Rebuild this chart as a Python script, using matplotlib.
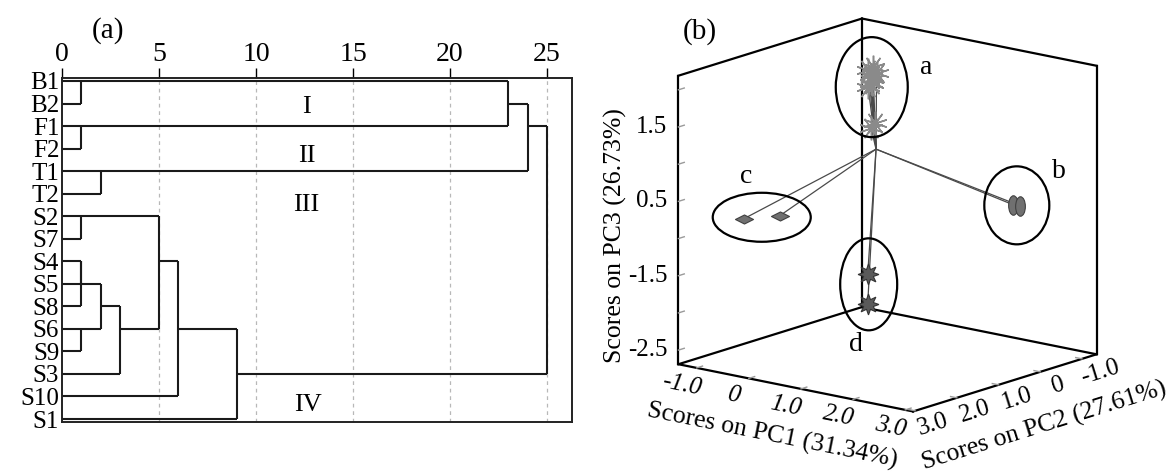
import numpy as np
import matplotlib
matplotlib.use("Agg")
import matplotlib.pyplot as plt
from matplotlib.patches import Ellipse
from matplotlib.path import Path
from mpl_toolkits.mplot3d import proj3d

plt.rcParams['font.family'] = ['Liberation Serif', 'DejaVu Serif']

# ---------------- panel (a): dendrogram data ----------------
leaf_labels = ['B1', 'B2', 'F1', 'F2', 'T1', 'T2', 'S2', 'S7', 'S4', 'S5',
               'S8', 'S6', 'S9', 'S3', 'S10', 'S1']
# cluster ids < 16 are leaves, id 16+k is the cluster made by merge k
merge_left = [0, 2, 4, 6, 8, 20, 11, 21, 23, 19, 25, 26, 16, 28, 29]
merge_right = [1, 3, 5, 7, 9, 10, 12, 22, 13, 24, 14, 15, 17, 18, 27]
merge_dist = [1, 1, 2, 1, 1, 1, 1, 2, 3, 5, 6, 9, 23, 24, 25]
dist_ticks = [0, 5, 10, 15, 20, 25]
cluster_names = ['I', 'II', 'III', 'IV']
cluster_name_dist = [12.6, 12.6, 12.6, 12.7]
cluster_name_row = [1.15, 3.35, 5.5, 14.4]

# ---------------- panel (b): PCA score data ----------------
group_names = ['a', 'b', 'c', 'd']
a_pc1 = [0.02, -0.03, 0.05, 0.00, -0.02, 0.04, 0.01, -0.04, 0.03, 0.00]
a_pc2 = [0.10, 0.15, 0.05, 0.12, 0.08, 0.18, 0.10, 0.14, 0.06, 0.12]
a_pc3 = [1.98, 1.94, 1.90, 1.86, 1.82, 1.78, 1.75, 1.72, 1.22, 1.17]
b_pc1 = [1.83, 1.97]
b_pc2 = [-1.00, -1.00]
b_pc3 = [0.196, 0.20]
c_pc1 = [-0.80, -0.80]
c_pc2 = [2.17, 1.31]
c_pc3 = [0.19, 0.08]
d_pc1 = [0.00, 0.00]
d_pc2 = [0.20, 0.20]
d_pc3 = [-0.79, -1.19]
center_pc = (0.0, 0.0, 0.86)   # (PC1, PC2, PC3) where the lines meet
pc1_lim = (-1.35, 3.15)
pc2_lim = (-1.35, 3.05)
pc3_lim = (-1.69, 2.19)
pc1_ticks = [-1, 0, 1, 2, 3]
pc1_ticklabels = ['-1.0', '0', '1.0', '2.0', '3.0']
pc2_ticks = [-1, 0, 1, 2, 3]
pc2_ticklabels = ['-1.0', '0', '1.0', '2.0', '3.0']
pc3_ticks = [2.0, 1.5, 1.0, 0.5, 0.0, -0.5, -1.0, -1.5]
pc3_ticklabels = ['', '1.5', '', '0.5', '', '-1.5', '', '-2.5']
pc1_label = 'Scores on PC1 (31.34%)'
pc2_label = 'Scores on PC2 (27.61%)'
pc3_label = 'Scores on PC3 (26.73%)'

W, H = 1171, 474
fig = plt.figure(figsize=(W / 100, H / 100), dpi=100)

# ================= panel (a) =================
ax = fig.add_axes([62 / W, (H - 422) / H, (572 - 62) / W, (422 - 78) / H])
LC = '#1a1a1a'
LW = 1.5
n = len(leaf_labels)
pos = list(range(n))
hgt = [0.0] * n
for l, r, d in zip(merge_left, merge_right, merge_dist):
    ax.plot([hgt[l], d], [pos[l], pos[l]], color=LC, lw=LW, clip_on=False, solid_capstyle='butt')
    ax.plot([hgt[r], d], [pos[r], pos[r]], color=LC, lw=LW, clip_on=False, solid_capstyle='butt')
    ax.plot([d, d], [pos[l], pos[r]], color=LC, lw=LW, clip_on=False, solid_capstyle='butt')
    pos.append((pos[l] + pos[r]) // 2)
    hgt.append(d)

for t in dist_ticks[1:]:
    ax.axvline(t, color='#b8b8b8', lw=0.9, ls=(0, (3, 3)), zorder=0)

for name, xd, yr in zip(cluster_names, cluster_name_dist, cluster_name_row):
    ax.text(xd, yr, name, fontsize=19, ha='center', va='center')

ax.set_xlim(0, 26.29)
ax.set_ylim(15.133, -0.133)
ax.xaxis.tick_top()
ax.set_xticks(dist_ticks)
ax.set_xticklabels([str(t) for t in dist_ticks], fontsize=20)
ax.tick_params(axis='x', direction='out', length=7, width=1.0, pad=1)
ax.set_yticks(range(n))
ax.set_yticklabels(leaf_labels, fontsize=18)
ax.tick_params(axis='y', length=0, pad=2)
for sp in ax.spines.values():
    sp.set_linewidth(1.4)
    sp.set_color('#222222')
fig.text(108 / W, 1 - 31 / H, '(a)', fontsize=21, ha='center', va='center')

# ================= panel (b) =================
ax3 = fig.add_axes([0.53, 0.0, 0.45, 1.0], projection='3d', proj_type='ortho')
ax3.set_facecolor('none')
ax3.set_axis_off()
ax3.computed_zorder = False
ax3.view_init(elev=14.5, azim=38.8)
ax3.set_box_aspect((0.973, 1.0, 0.99))

oval = Path(Path.unit_circle().vertices * np.array([0.5, 1.0]), Path.unit_circle().codes)
diamond = Path([(-1, 0), (0, 0.5), (1, 0), (0, -0.5), (-1, 0)],
               [Path.MOVETO, Path.LINETO, Path.LINETO, Path.LINETO, Path.CLOSEPOLY])

groups = {
    'a': (a_pc1, a_pc2, a_pc3, dict(marker=(10, 2, 0), ms=17, mec='#8a8a8a', mfc='#8a8a8a', mew=1.1)),
    'b': (b_pc1, b_pc2, b_pc3, dict(marker=oval, ms=14, mfc='#707070', mec='#404040', mew=0.8)),
    'c': (c_pc1, c_pc2, c_pc3, dict(marker=diamond, ms=13, mfc='#707070', mec='#404040', mew=0.8)),
    'd': (d_pc1, d_pc2, d_pc3, dict(marker=(8, 1, 0), ms=15, mfc='#5a5a5a', mec='#333333', mew=0.8)),
}
c1, c2, c3 = center_pc
for g in group_names:
    p1, p2, p3, st = groups[g]
    for u, v, w in zip(p1, p2, p3):
        ax3.plot([c2, v], [c1, u], [c3, w], color='#4a4a4a', lw=0.9, zorder=2)
for g in group_names:
    p1, p2, p3, st = groups[g]
    ax3.plot(p2, p1, p3, ls='none', zorder=3, **st)

x0, x1 = pc2_lim
y0, y1 = pc1_lim
z0, z1 = pc3_lim
edges = [((x0, x0), (y0, y0), (z0, z1)),
         ((x1, x1), (y0, y0), (z0, z1)),
         ((x0, x0), (y1, y1), (z0, z1)),
         ((x0, x1), (y0, y0), (z1, z1)),
         ((x0, x0), (y0, y1), (z1, z1)),
         ((x0, x1), (y0, y0), (z0, z0)),
         ((x0, x0), (y0, y1), (z0, z0)),
         ((x1, x1), (y0, y1), (z0, z0)),
         ((x0, x1), (y1, y1), (z0, z0))]
for ex, ey, ez in edges:
    ax3.plot(ex, ey, ez, color='black', lw=1.6, zorder=1, solid_capstyle='projecting')

TK = '#9a9a9a'
for t in pc3_ticks:
    ax3.plot([x1, x1 - 0.14], [y0, y0], [t, t], color=TK, lw=1.0, zorder=1)
for t in pc1_ticks:
    ax3.plot([x1, x1 - 0.14], [t, t], [z0, z0], color=TK, lw=1.0, zorder=1)
for t in pc2_ticks:
    ax3.plot([t, t], [y1, y1 - 0.12], [z0, z0], color=TK, lw=1.0, zorder=1)

ax3.set_xlim(*pc2_lim)
ax3.set_ylim(*pc1_lim)
ax3.set_zlim(*pc3_lim)


def to_px(xs, ys, zs):
    X, Y, _ = proj3d.proj_transform(np.atleast_1d(np.asarray(xs, float)),
                                    np.atleast_1d(np.asarray(ys, float)),
                                    np.atleast_1d(np.asarray(zs, float)), ax3.M)
    return ax3.transData.transform(np.column_stack([X, Y]))


corner_x = [x0, x1, x0, x1, x0, x1, x0, x1]
corner_y = [y0, y0, y1, y1, y0, y0, y1, y1]
corner_z = [z0, z0, z0, z0, z1, z1, z1, z1]
target_w, target_h = 1096 - 679, 412 - 18
target_c = np.array([(679 + 1096) / 2, H - (18 + 412) / 2])
for _ in range(2):
    fig.canvas.draw()
    pix = to_px(corner_x, corner_y, corner_z)
    bw = pix[:, 0].max() - pix[:, 0].min()
    bh = pix[:, 1].max() - pix[:, 1].min()
    pc = np.array([(pix[:, 0].max() + pix[:, 0].min()) / 2, (pix[:, 1].max() + pix[:, 1].min()) / 2])
    s = 0.5 * (target_w / bw + target_h / bh)
    bb = ax3.get_position()
    rc = np.array([(bb.x0 + bb.x1) / 2 * W, (bb.y0 + bb.y1) / 2 * H])
    nc = target_c - s * (pc - rc)
    nw, nh = bb.width * W * s, bb.height * H * s
    ax3.set_position([(nc[0] - nw / 2) / W, (nc[1] - nh / 2) / H, nw / W, nh / H])
fig.canvas.draw()


def ftext(px, py, s, **kw):
    fig.text(px / W, py / H, s, **kw)


def edge_angle(pa, pb):
    d = pb - pa
    a = np.degrees(np.arctan2(d[1], d[0]))
    if a > 90:
        a -= 180
    if a < -90:
        a += 180
    return a


# PC1 axis (front-left floor edge)
e1 = to_px([x1, x1], [y0, y1], [z0, z0])
ang1 = edge_angle(e1[0], e1[1])
for t, lab in zip(pc1_ticks, pc1_ticklabels):
    p = to_px(x1, t, z0)[0]
    ftext(p[0] - 15, p[1] - 17, lab, fontsize=18, ha='center', va='center',
          rotation=ang1, style='italic', rotation_mode='anchor')
pm = to_px(x1, (y0 + y1) / 2, z0)[0]
ftext(pm[0] - 24, pm[1] - 48, pc1_label, fontsize=18.5, ha='center', va='center',
      rotation=ang1, rotation_mode='anchor')

# PC2 axis (front-right floor edge)
e2 = to_px([x1, x0], [y1, y1], [z0, z0])
ang2 = edge_angle(e2[0], e2[1])
for t, lab in zip(pc2_ticks, pc2_ticklabels):
    p = to_px(t, y1, z0)[0]
    ftext(p[0] + 18, p[1] - 14, lab, fontsize=18, ha='center', va='center',
          rotation=ang2, rotation_mode='anchor')
pm = to_px((x0 + x1) / 2, y1, z0)[0]
ftext(pm[0] + 39, pm[1] - 43, pc2_label, fontsize=18.5, ha='center', va='center',
      rotation=ang2, rotation_mode='anchor')

# PC3 axis (left vertical edge)
for t, lab in zip(pc3_ticks, pc3_ticklabels):
    if lab:
        p = to_px(x1, y0, t)[0]
        ftext(p[0] - 11, p[1], lab, fontsize=18, ha='right', va='center')
pm = to_px(x1, y0, (z0 + z1) / 2)[0]
ftext(pm[0] - 63, pm[1] - 16, pc3_label, fontsize=18.5, ha='center', va='center', rotation=90)

# group ellipses and letters (sizes / offsets in pixels)
ell_size = {'a': (72, 100), 'b': (65, 78), 'c': (98, 49), 'd': (57, 92)}
ell_shift = {'a': (0, 0), 'b': (0, 0), 'c': (0, 0), 'd': (1, 5)}
letter_off = {'a': (54, 20), 'b': (42, 34), 'c': (-16, 41), 'd': (-13, -60)}
for g in group_names:
    p1, p2, p3, st = groups[g]
    pts = to_px(p2, p1, p3)
    cx, cy = pts.mean(axis=0)
    cx += ell_shift[g][0]
    cy += ell_shift[g][1]
    ew, eh = ell_size[g]
    fig.add_artist(Ellipse((cx / W, cy / H), ew / W, eh / H, transform=fig.transFigure,
                           fill=False, ec='black', lw=1.6))
    ox, oy = letter_off[g]
    ftext(cx + ox, cy + oy, g, fontsize=20, ha='center', va='center')

fig.text(700 / W, 1 - 32 / H, '(b)', fontsize=21, ha='center', va='center')

fig.savefig('out.png', dpi=100)
